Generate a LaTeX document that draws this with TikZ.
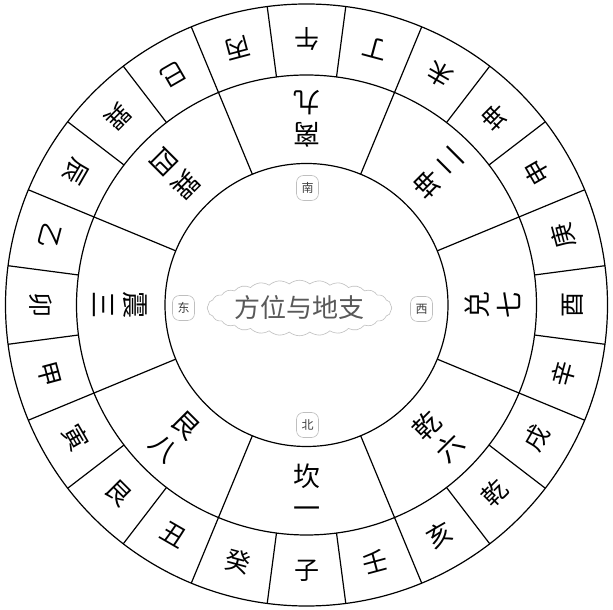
\documentclass[tikz,border=0pt]{standalone}
\usepackage{fontspec}
\newfontfamily\cjk{Noto Sans CJK SC}
\usetikzlibrary{shapes.symbols}
\tikzset{
  ring/.style={line width=1.2pt, black},
  outerlbl/.style={font=\cjk\fontsize{25}{25}\selectfont, inner sep=0pt},
  midlbl/.style={font=\cjk\fontsize{27}{32}\selectfont, inner sep=0pt, align=center},
  dirlbl/.style={font=\cjk\fontsize{12}{12}\selectfont, text=black!75, draw=black!25, line width=0.6pt, rounded corners=7pt, minimum width=22pt, minimum height=25pt, inner sep=1pt},
  titlelbl/.style={font=\cjk\fontsize{26}{26}\selectfont, text=black!65, draw=black!25, line width=0.6pt, cloud, cloud puffs=28, cloud puff arc=80, aspect=3.8, minimum width=146pt, minimum height=38pt, inner sep=0pt}
}
\begin{document}
\begin{tikzpicture}[x=1pt,y=1pt]
\useasboundingbox (0,0) rectangle (613,610);
\fill[white] (0,0) rectangle (613,610);
\coordinate (O) at (306.5,305);
\begin{scope}[shift={(O)}]
  \draw[ring] (0,0) circle (301);
  \draw[ring] (0,0) circle (230);
  \draw[ring] (0,0) circle (141.5);
  \foreach \k in {0,...,23} {
    \pgfmathsetmacro{\ang}{-82.5+15*\k}
    \draw[ring] (\ang:230) -- (\ang:301);
  }
  \foreach \k in {0,...,7} {
    \pgfmathsetmacro{\ang}{22.5+45*\k}
    \draw[ring] (\ang:141.5) -- (\ang:230);
  }
  \foreach \t/\a [count=\i] in {子/-90,癸/-105,丑/-120,艮/-135,寅/-150,甲/-165,卯/-180,乙/-195,辰/-210,巽/-225,巳/-240,丙/-255,午/-270,丁/-285,未/-300,坤/-315,申/-330,庚/-345,酉/-360,辛/-375,戌/-390,乾/-405,亥/-420,壬/-435} {
    \node[outerlbl, rotate=\a+90] (m\i) at (\a:266) {\t};
  }
  \node[midlbl, rotate=0]    (g1) at (-90:186)  {坎\\一};
  \node[midlbl, rotate=-45]  (g2) at (-135:186) {艮\\八};
  \node[midlbl, rotate=-90]  (g3) at (180:186)  {震\\三};
  \node[midlbl, rotate=-135] (g4) at (135:186)  {巽\\四};
  \node[midlbl, rotate=180]  (g5) at (90:186)   {离\\九};
  \node[midlbl, rotate=135]  (g6) at (45:186)   {坤\\二};
  \node[midlbl, rotate=90]   (g7) at (0:186)    {兑\\七};
  \node[midlbl, rotate=45]   (g8) at (-45:186)  {乾\\六};
  \node[dirlbl] (south) at (1,117) {南};
  \node[dirlbl] (north) at (1,-120) {北};
  \node[dirlbl] (east) at (-123,-3) {东};
  \node[dirlbl] (west) at (115,-4) {西};
  \node[titlelbl] (title) at (-7,-3) {方位与地支};
\end{scope}
\end{tikzpicture}
\end{document}
